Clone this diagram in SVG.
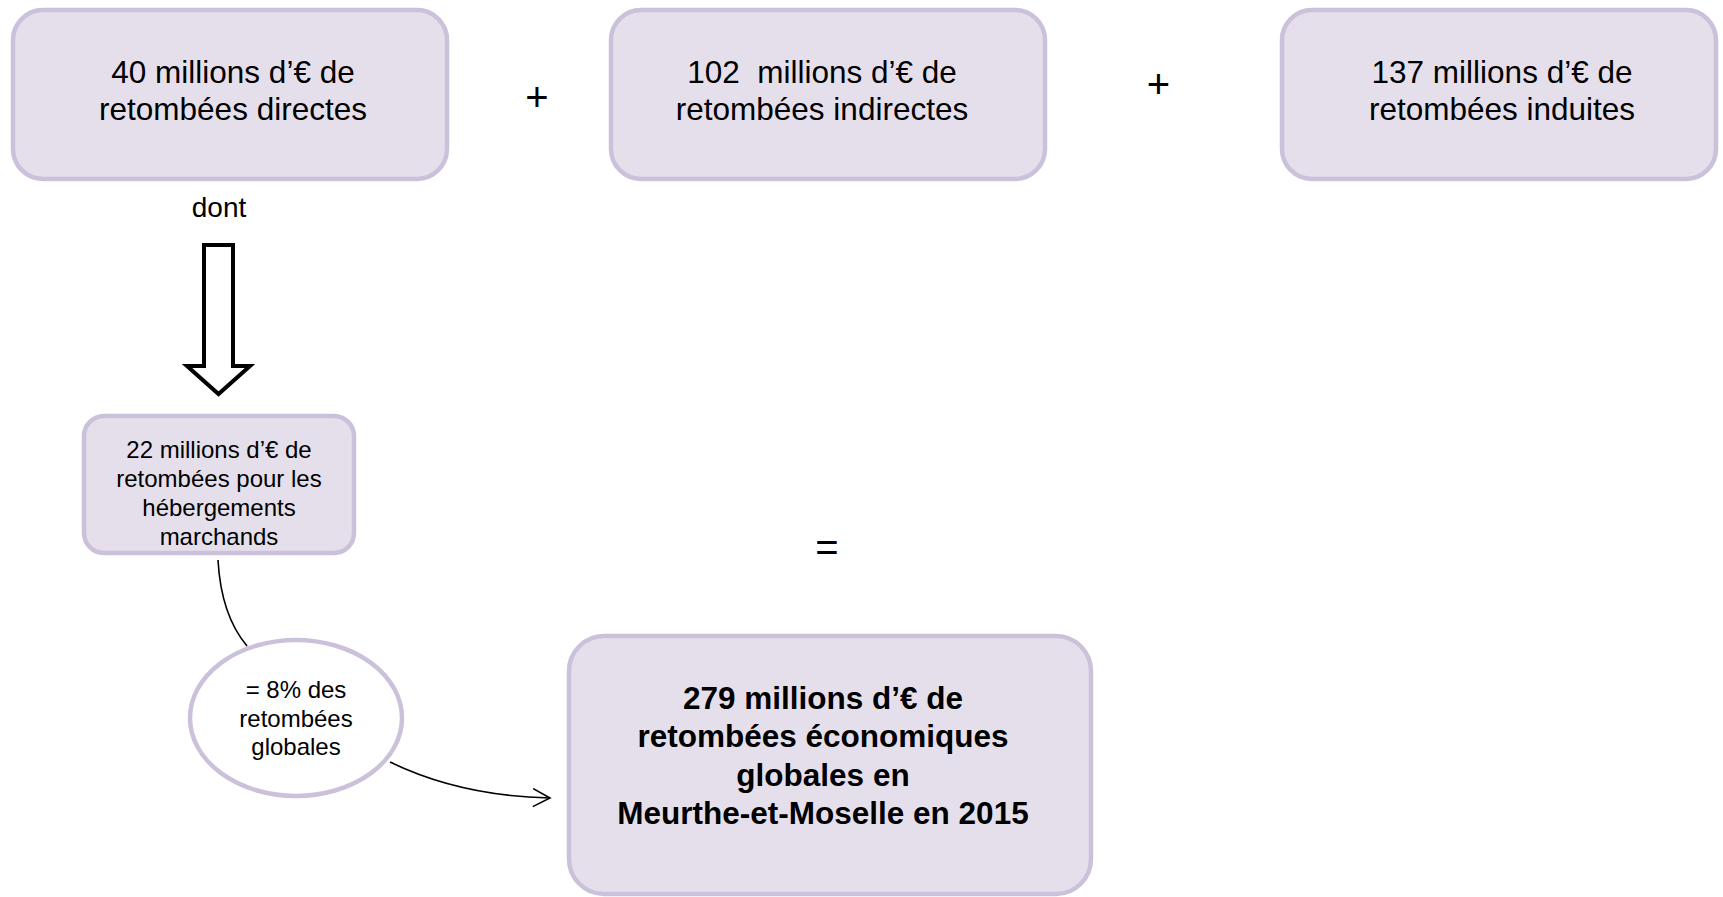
<svg xmlns="http://www.w3.org/2000/svg" width="1723" height="897" viewBox="0 0 1723 897">
<style>
.box{fill:#e5dfec;stroke:#ccc1da;stroke-width:4.5}
.t{font-family:"Liberation Sans",Arial,sans-serif;fill:#000;text-anchor:middle}
.big{font-size:31.5px}
.op{font-size:40px}
.sm{font-size:24px}
.b{font-weight:bold;font-size:31.5px}
.ln{fill:none;stroke:#000;stroke-width:1.6}
</style>
<defs>
<marker id="open" viewBox="0 0 20 20" refX="18" refY="10" markerWidth="20" markerHeight="20" markerUnits="userSpaceOnUse" orient="auto">
<path d="M1,1 L18,10 L1,19" fill="none" stroke="#000" stroke-width="1.6"/>
</marker>
</defs>
<rect width="1723" height="897" fill="#fff"/>
<g id="n-direct">
<rect class="box" x="13" y="10" width="434" height="169" rx="30"/>
<text class="t big" x="233" y="83">40 millions d’€ de</text>
<text class="t big" x="233" y="120">retombées directes</text>
</g>
<g id="plus1"><text class="t op" x="537" y="110.5">+</text></g>
<g id="n-indirect">
<rect class="box" x="611" y="10" width="434" height="169" rx="30"/>
<text class="t big" x="822" y="83" xml:space="preserve">102  millions d’€ de</text>
<text class="t big" x="822" y="120">retombées indirectes</text>
</g>
<g id="plus2"><text class="t op" x="1158.5" y="98">+</text></g>
<g id="n-induit">
<rect class="box" x="1282" y="10" width="434" height="169" rx="30"/>
<text class="t big" x="1502" y="83">137 millions d’€ de</text>
<text class="t big" x="1502" y="120">retombées induites</text>
</g>
<g id="dont"><text class="t" style="font-size:28px" x="219" y="217">dont</text></g>
<g id="blockarrow">
<polygon points="204,245 233,245 233,366 250,366 218.5,394 187,366 204,366" fill="#fff" stroke="#000" stroke-width="4"/>
</g>
<g id="n-heberg">
<rect class="box" x="84" y="416" width="270" height="137" rx="20"/>
<text class="t sm" x="219" y="458">22 millions d’€ de</text>
<text class="t sm" x="219" y="487">retombées pour les</text>
<text class="t sm" x="219" y="516">hébergements</text>
<text class="t sm" x="219" y="545">marchands</text>
</g>
<g id="n-pct">
<ellipse class="box" cx="296" cy="718" rx="106" ry="78" style="fill:#fff"/>
<text class="t sm" x="296" y="698">= 8% des</text>
<text class="t sm" x="296" y="727">retombées</text>
<text class="t sm" x="296" y="755">globales</text>
</g>
<g id="equals"><text class="t op" x="827" y="561">=</text></g>
<g id="n-total">
<rect class="box" x="569" y="636" width="522" height="258" rx="35"/>
<text class="t b" x="823" y="709">279 millions d’€ de</text>
<text class="t b" x="823" y="747">retombées économiques</text>
<text class="t b" x="823" y="786">globales en</text>
<text class="t b" x="823" y="824">Meurthe-et-Moselle en 2015</text>
</g>
<g id="connectors">
<path class="ln" d="M218,560 Q221,615 247,646"/>
<path class="ln" d="M390,762 Q460,796 550,798" marker-end="url(#open)"/>
</g>
</svg>
